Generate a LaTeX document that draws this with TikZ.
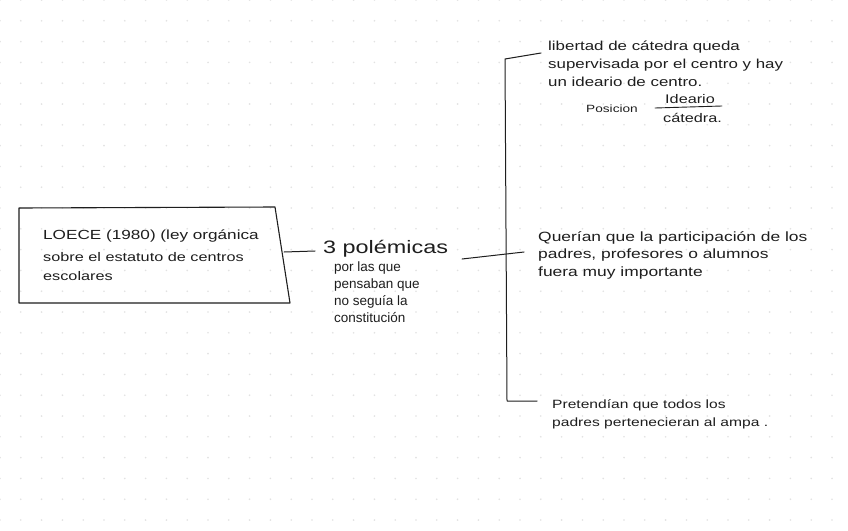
\documentclass[tikz,border=0pt]{standalone}
\usepackage{fontspec}
\setmainfont{Liberation Sans}
\newfontfamily\hand[FakeStretch=1.3]{Liberation Sans}
\newfontfamily\handn{Liberation Sans}
\definecolor{ink}{HTML}{1E1E1E}
\definecolor{dotc}{HTML}{E2E2E2}
\begin{document}
\begin{tikzpicture}[x=1pt,y=-1pt,
  txt/.style={inner sep=0pt, anchor=base west, align=left, text=ink},
  ln/.style={draw=ink, line width=1pt, line cap=round, line join=round}]
\useasboundingbox (0,0) rectangle (848,530);
\fill[white] (0,0) rectangle (848,530);
\foreach \i in {0,...,41}{\foreach \j in {0,...,25}{\fill[dotc] (20.8*\i,20.8*\j) circle[radius=0.9pt];}}

% box
\coordinate (b1) at (19,208);
\coordinate (b2) at (275,207);
\coordinate (b3) at (290,303);
\coordinate (b4) at (19,303);
\draw[ln, line width=1.1pt] (b1) -- (b2) -- (b3) -- (b4) -- cycle;
% multi-line nodes: base anchor = baseline of last line
\node[txt, font=\hand\fontsize{13.2}{17}\selectfont] (loece) at (43,239) {LOECE (1980) (ley orgánica};
\node[txt, font=\hand\fontsize{12.5}{19}\selectfont] (sobre) at (43,280) {sobre el estatuto de centros\\escolares};

% middle
\node[txt, font=\hand\fontsize{18}{20}\selectfont] (pol) at (323,253) {3 polémicas};
\node[txt, font=\handn\fontsize{13.5}{17}\selectfont] (porq) at (334,322) {por las que\\pensaban que\\no seguía la\\constitución};

\coordinate (boxR) at (284,252);
\coordinate (polL) at (315,251);
\draw[ln] (boxR) -- (polL);

% bracket
\coordinate (mA) at (462,259);
\coordinate (mB) at (524,252);
\coordinate (vT) at (505,59);
\coordinate (vB) at (507,401);
\coordinate (tE) at (541,53);
\coordinate (bE) at (537,401);
\draw[ln] (mA) -- (mB);
\draw[ln] (tE) -- (vT) -- (vB) -- (bE);

% top right
\node[txt, font=\hand\fontsize{13}{18}\selectfont] (lib) at (548,86) {libertad de cátedra queda\\supervisada por el centro y hay\\un ideario de centro.};
\node[txt, font=\hand\fontsize{10.5}{12}\selectfont] (posi) at (586,112) {Posicion};
\node[txt, font=\hand\fontsize{12.5}{12}\selectfont] (ide) at (665,103) {Ideario};
\node[txt, font=\hand\fontsize{12.5}{12}\selectfont] (cat) at (663,122) {cátedra.};
\coordinate (fL) at (655,108);
\coordinate (fR) at (722,106);
\draw[ln, line width=0.9pt] (fL) -- (fR);

% middle right
\node[txt, font=\hand\fontsize{13.4}{17.5}\selectfont] (quer) at (538,276) {Querían que la participación de los\\padres, profesores o alumnos\\fuera muy importante};

% bottom right
\node[txt, font=\hand\fontsize{12}{18}\selectfont] (pret) at (552,426) {Pretendían que todos los\\padres pertenecieran al ampa .};
\end{tikzpicture}
\end{document}
